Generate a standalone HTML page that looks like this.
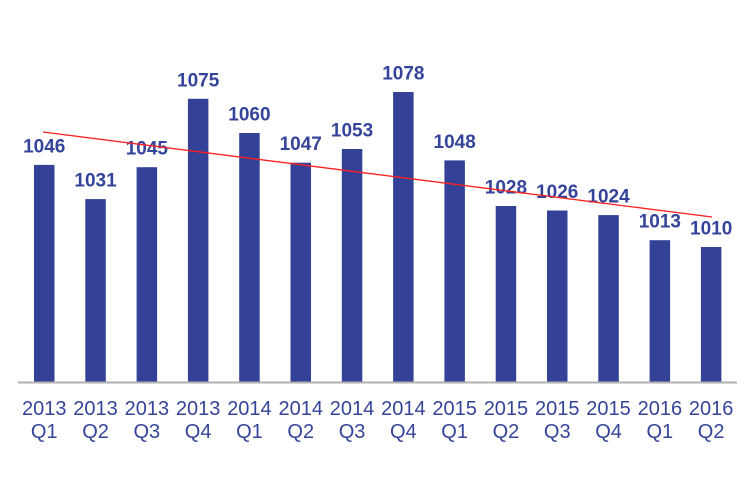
<!DOCTYPE html><html><head><style>body{margin:0;background:#fff}</style></head><body>
<svg width="756" height="475" xmlns="http://www.w3.org/2000/svg" font-family="Liberation Sans, sans-serif">
<g fill="#334296">
<rect x="34" y="164.9" width="20.5" height="217.1"/>
<rect x="85.3" y="199.1" width="20.5" height="182.9"/>
<rect x="136.6" y="167.2" width="20.5" height="214.8"/>
<rect x="187.9" y="98.8" width="20.5" height="283.2"/>
<rect x="239.2" y="133" width="20.5" height="249"/>
<rect x="290.5" y="162.7" width="20.5" height="219.3"/>
<rect x="341.8" y="149" width="20.5" height="233"/>
<rect x="393.1" y="92" width="20.5" height="290"/>
<rect x="444.4" y="160.4" width="20.5" height="221.6"/>
<rect x="495.7" y="206" width="20.5" height="176"/>
<rect x="547" y="210.5" width="20.5" height="171.5"/>
<rect x="598.3" y="215.1" width="20.5" height="166.9"/>
<rect x="649.6" y="240.2" width="20.5" height="141.8"/>
<rect x="700.9" y="247" width="20.5" height="135"/>
</g>
<g font-size="19" font-weight="bold" fill="#34449a" text-anchor="middle">
<text x="44.25" y="152.4">1046</text>
<text x="95.55" y="186.6">1031</text>
<text x="146.85" y="154.7">1045</text>
<text x="198.15" y="86.3">1075</text>
<text x="249.45" y="120.5">1060</text>
<text x="300.75" y="150.2">1047</text>
<text x="352.05" y="136.5">1053</text>
<text x="403.35" y="79.5">1078</text>
<text x="454.65" y="147.9">1048</text>
<text x="505.95" y="193.5">1028</text>
<text x="557.25" y="198">1026</text>
<text x="608.55" y="202.6">1024</text>
<text x="659.85" y="227.7">1013</text>
<text x="711.15" y="234.5">1010</text>
</g>
<g font-size="20" fill="#34449a" text-anchor="middle">
<text x="44.25" y="415">2013</text><text x="44.25" y="438">Q1</text>
<text x="95.55" y="415">2013</text><text x="95.55" y="438">Q2</text>
<text x="146.85" y="415">2013</text><text x="146.85" y="438">Q3</text>
<text x="198.15" y="415">2013</text><text x="198.15" y="438">Q4</text>
<text x="249.45" y="415">2014</text><text x="249.45" y="438">Q1</text>
<text x="300.75" y="415">2014</text><text x="300.75" y="438">Q2</text>
<text x="352.05" y="415">2014</text><text x="352.05" y="438">Q3</text>
<text x="403.35" y="415">2014</text><text x="403.35" y="438">Q4</text>
<text x="454.65" y="415">2015</text><text x="454.65" y="438">Q1</text>
<text x="505.95" y="415">2015</text><text x="505.95" y="438">Q2</text>
<text x="557.25" y="415">2015</text><text x="557.25" y="438">Q3</text>
<text x="608.55" y="415">2015</text><text x="608.55" y="438">Q4</text>
<text x="659.85" y="415">2016</text><text x="659.85" y="438">Q1</text>
<text x="711.15" y="415">2016</text><text x="711.15" y="438">Q2</text>
</g>
<line x1="18" y1="382.5" x2="737" y2="382.5" stroke="#b0b0b0" stroke-width="2"/>
<line x1="43" y1="132" x2="712" y2="217" stroke="#ff2020" stroke-width="1.3"/>
</svg></body></html>
